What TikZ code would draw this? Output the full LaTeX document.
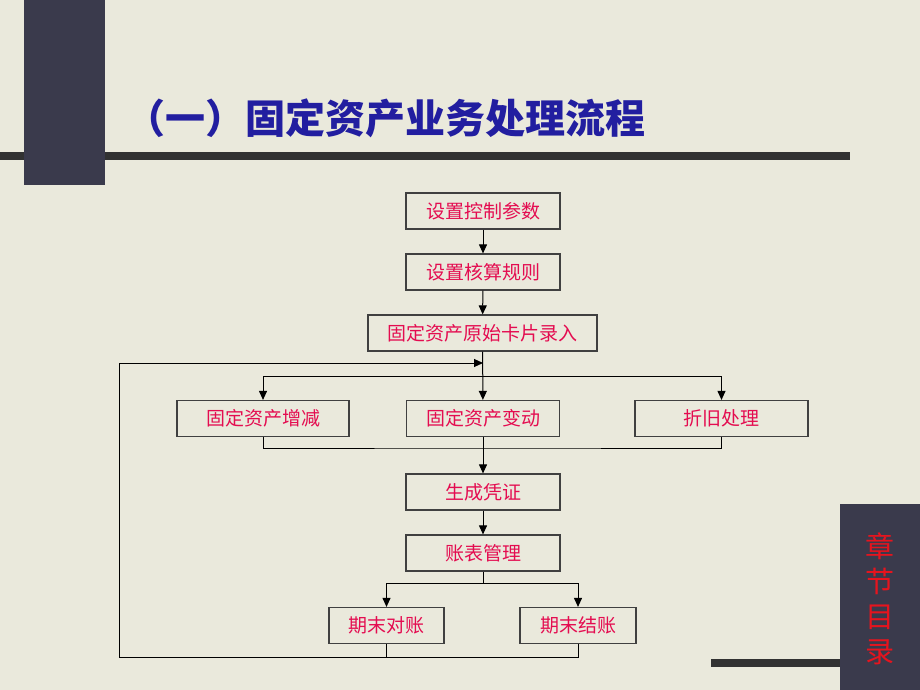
\documentclass[tikz,border=0pt]{standalone}
\usepackage{fontspec}
\newfontfamily\cjk{Noto Sans CJK SC}
\usetikzlibrary{arrows.meta}
\definecolor{bg}{RGB}{234,233,220}
\definecolor{panel}{RGB}{58,58,76}
\definecolor{barc}{RGB}{50,50,50}
\definecolor{titleblue}{RGB}{34,30,160}
\definecolor{boxtext}{RGB}{228,12,80}
\definecolor{navred}{RGB}{230,20,30}
\definecolor{boxline}{RGB}{64,64,64}
\begin{document}
\begin{tikzpicture}[x=1pt,y=-1pt,
  stepbox/.style={draw=boxline,line width=1.2pt,minimum height=36pt,inner sep=0pt,
    font=\cjk\fontsize{19}{19}\selectfont,text=boxtext},
  conn/.style={draw=black,line width=1pt},
  arr/.style={conn,-{Triangle[length=9pt,width=8pt]}}]
\useasboundingbox (0,0) rectangle (920,690);
\fill[bg] (0,0) rectangle (920,690);
% decorations
\fill[panel] (24,0) rectangle (105,185);
\fill[barc] (0,152) rectangle (24,160);
\fill[barc] (105,152) rectangle (850,160);
\fill[panel] (840,504) rectangle (920,690);
\fill[barc] (711,659) rectangle (840,667);
% title
\node[anchor=west,text=titleblue,font=\cjk\bfseries\fontsize{40}{40}\selectfont] (title) at (122,118) {（一）固定资产业务处理流程};
% nav
\node[text=navred,font=\cjk\fontsize{29}{29}\selectfont,align=center,inner sep=0pt] (nav) at (880,599)
  {章\\[6pt]节\\[6pt]目\\[6pt]录};
% boxes
\node[stepbox,minimum width=154pt] (b1) at (483,211) {设置控制参数};
\node[stepbox,minimum width=154pt] (b2) at (483,272) {设置核算规则};
\node[stepbox,minimum width=229pt] (b3) at (482.5,333) {固定资产原始卡片录入};
\node[stepbox,minimum width=172pt] (b4) at (263,418.5) {固定资产增减};
\node[stepbox,minimum width=153pt] (b5) at (483,418.5) {固定资产变动};
\node[stepbox,minimum width=173pt] (b6) at (721.5,418.5) {折旧处理};
\node[stepbox,minimum width=154pt] (b7) at (483,492) {生成凭证};
\node[stepbox,minimum width=154pt] (b8) at (483,553) {账表管理};
\node[stepbox,minimum width=115pt] (b9) at (386.5,625.5) {期末对账};
\node[stepbox,minimum width=116pt] (b10) at (578,625.5) {期末结账};
% coordinates
\coordinate (split) at (483,376);
\coordinate (merge) at (483,448);
\coordinate (loopin) at (483,363);
\coordinate (fork) at (483,583);
\coordinate (loopL) at (119,657);
% connectors
\draw[arr] (b1) -- (b2);
\draw[arr] (b2) -- (b3);
\draw[arr] (b3) -- (b5);
\draw[arr] (split) -| (b4.north);
\draw[arr] (split) -| (b6.north);
\draw[conn] (b4.south) |- (merge) -| (b6.south);
\draw[conn] (b5.south) -- (merge);
\draw[arr] (merge) -- (b7);
\draw[arr] (b7) -- (b8);
\draw[conn] (b8.south) -- (fork);
\draw[arr] (fork) -| (b9.north);
\draw[arr] (fork) -| (b10.north);
\draw[conn] (b9.south) |- (loopL);
\draw[conn] (b10.south) |- (b9.south |- loopL);
\draw[arr] (loopL) |- (loopin);
\end{tikzpicture}
\end{document}
